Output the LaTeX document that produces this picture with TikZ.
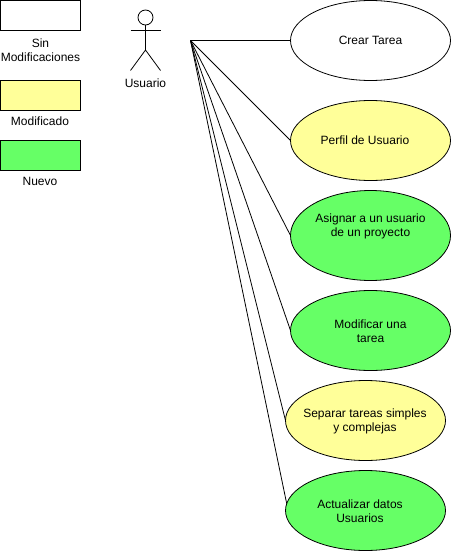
\documentclass[tikz,border=0pt]{standalone}
\usepackage{fontspec}
\usepackage{xcolor}
\setmainfont{Liberation Sans}
\usetikzlibrary{positioning,shapes.geometric}
\definecolor{modcolor}{HTML}{FFFF99}
\definecolor{newcolor}{HTML}{66FF66}

\begin{document}
\begin{tikzpicture}[
  x=1pt, y=-1pt,
  every node/.style={font=\fontsize{12}{14}\selectfont},
  legend/.style={draw, line width=0.8pt, minimum width=80pt, minimum height=30pt, inner sep=0pt, outer sep=0pt},
  usecase/.style={draw, ellipse, line width=0.8pt, align=center, minimum width=160pt, minimum height=80pt, inner xsep=-20pt, inner ysep=-8pt, outer sep=0pt},
  lbl/.style={align=center, inner sep=0pt},
  link/.style={line width=0.8pt},
  stick/.style={line width=0.8pt}
]
\useasboundingbox (0,0) rectangle (451,551);

\node[legend] (same) at (40.5, 15.5) {};
\node[lbl] (samelbl) at (40.5, 50.5) {Sin\\Modificaciones};
\node[legend, fill=modcolor] (mod) at (40.5, 95.5) {};
\node[lbl] (modlbl) at (40, 121) {Modificado};
\node[legend, fill=newcolor] (new) at (40.5, 155.5) {};
\node[lbl] (newlbl) at (40, 181) {Nuevo};

\node[draw, circle, stick, minimum size=15pt, inner sep=0pt, outer sep=0pt] (head) at (145.5, 17.5) {};
\coordinate (hip) at (145.5, 50);
\coordinate (armleft) at (130.5, 30.5);
\coordinate (armright) at (160.5, 30.5);
\coordinate (footleft) at (130.5, 70.5);
\coordinate (footright) at (160.5, 70.5);
\draw[stick] (head.south) -- (hip);
\draw[stick] (armleft) -- (armright);
\draw[stick] (footleft) -- (hip) -- (footright);
\node[lbl] (actorlbl) at (145.5, 83.5) {Usuario};

\coordinate (hub) at (190.5, 40.5);

\node[usecase] (crear) at (370.5, 40.5) {};
\node[lbl] (crearlbl) at (370.5, 40.5) {Crear Tarea};
\node[usecase, fill=modcolor] (perfil) at (370.5, 140.5) {};
\node[lbl] (perfillbl) at (365, 140.5) {Perfil de Usuario};
\node[usecase, fill=newcolor, minimum height=90pt] (asignar) at (370.5, 235.5) {};
\node[lbl] (asignarlbl) at (370.5, 226.5) {Asignar a un usuario\\de un proyecto};
\node[usecase, fill=newcolor] (modificar) at (370.5, 330.5) {};
\node[lbl] (modificarlbl) at (370.5, 331.5) {Modificar una\\tarea};
\node[usecase, fill=modcolor] (separar) at (365.5, 420.5) {};
\node[lbl] (separarlbl) at (365, 421.5) {Separar tareas simples\\y complejas};
\node[usecase, fill=newcolor] (actualizar) at (365.5, 510.5) {};
\node[lbl] (actualizarlbl) at (360, 511.5) {Actualizar datos\\Usuarios};

\draw[link] (hub) -- (crear.west);
\draw[link] (hub) -- (perfil.west);
\draw[link] (hub) -- (asignar.west);
\draw[link] (hub) -- (modificar.west);
\draw[link] (hub) -- (separar.west);
\draw[link] (hub) -- (actualizar.175);
\end{tikzpicture}
\end{document}
